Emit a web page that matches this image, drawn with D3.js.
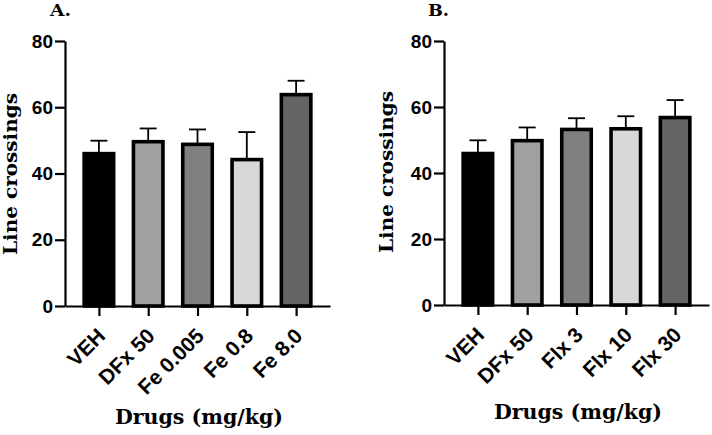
<!DOCTYPE html>
<html>
<head>
<meta charset="utf-8">
<script src="https://cdn.jsdelivr.net/npm/d3@7"></script>
<style>
  body { margin: 0; background: #fff; }
  .tick text { font-family: "Liberation Sans", Arial, sans-serif; font-weight: bold; fill: #000; }
  .slab { font-family: "DejaVu Serif", serif; font-weight: bold; fill: #000; }
</style>
</head>
<body>
<div id="chart"></div>
<script>
// values (mean and upper error)
var catsA = ["VEH", "DFx 50", "Fe 0.005", "Fe 0.8", "Fe 8.0"];
var meansA = [46, 49.6, 48.8, 44.2, 63.8];
var semA = [3.9, 4.0, 4.5, 8.3, 4.2];

var catsB = ["VEH", "DFx 50", "Flx 3", "Flx 10", "Flx 30"];
var meansB = [45.9, 49.8, 53.2, 53.4, 56.8];
var semB = [4.0, 4.0, 3.4, 3.8, 5.3];

var fills = ["#000000", "#a0a0a0", "#808080", "#d8d8d8", "#646464"];
var yTicks = [0, 20, 40, 60, 80];

var svg = d3.select("#chart").append("svg")
  .attr("width", 712)
  .attr("height", 435);

function panel(opt){
  var g = svg.append("g");

  var x = d3.scalePoint()
    .domain(opt.cats)
    .range([opt.left, opt.right])
    .padding(0.6875);

  var y = d3.scaleLinear()
    .domain([0, 80])
    .range([opt.bottom, opt.top]);

  var rows = opt.cats.map(function(c, i){
    return {cat: c, mean: opt.means[i], sem: opt.sem[i], fill: fills[i]};
  });

  var barW = 29.5;

  // bars
  g.selectAll("rect.bar")
    .data(rows)
    .enter().append("rect")
    .attr("class", "bar")
    .attr("x", function(d){ return x(d.cat) - barW / 2; })
    .attr("y", function(d){ return y(d.mean); })
    .attr("width", barW)
    .attr("height", function(d){ return y(0) - y(d.mean); })
    .attr("fill", function(d){ return d.fill; })
    .attr("stroke", "#000")
    .attr("stroke-width", 3.6);

  // error bars, upper only
  g.selectAll("line.err")
    .data(rows)
    .enter().append("line")
    .attr("class", "err")
    .attr("x1", function(d){ return x(d.cat); })
    .attr("x2", function(d){ return x(d.cat); })
    .attr("y1", function(d){ return y(d.mean) - 1.5; })
    .attr("y2", function(d){ return y(d.mean + d.sem); })
    .attr("stroke", "#000")
    .attr("stroke-width", 1.8);

  g.selectAll("line.cap")
    .data(rows)
    .enter().append("line")
    .attr("class", "cap")
    .attr("x1", function(d){ return x(d.cat) - 8.5; })
    .attr("x2", function(d){ return x(d.cat) + 8.5; })
    .attr("y1", function(d){ return y(d.mean + d.sem); })
    .attr("y2", function(d){ return y(d.mean + d.sem); })
    .attr("stroke", "#000")
    .attr("stroke-width", 1.8);

  // y axis
  var ya = g.append("g")
    .attr("transform", "translate(" + opt.left + ",0)")
    .call(d3.axisLeft(y).tickValues(yTicks).tickSize(10).tickSizeOuter(0).tickPadding(2));
  ya.selectAll(".tick text").style("font-size", "19px");

  // x axis
  var xa = g.append("g")
    .attr("transform", "translate(0," + opt.bottom + ")")
    .call(d3.axisBottom(x).tickSize(10).tickSizeOuter(0));

  [ya, xa].forEach(function(a){
    a.select(".domain").attr("stroke-width", 2.2);
    a.selectAll(".tick line").attr("stroke-width", 2.2);
  });

  xa.selectAll(".tick text")
    .style("font-size", "21px")
    .attr("x", 0)
    .attr("y", 0)
    .attr("dy", "0.35em")
    .attr("text-anchor", "end")
    .attr("transform", "translate(2,26) rotate(-45)");

  // labels
  g.append("text")
    .attr("class", "slab")
    .attr("transform", "translate(" + opt.ylabX + "," + opt.ylabY + ") rotate(-90)")
    .attr("text-anchor", "middle")
    .attr("font-size", 19)
    .attr("textLength", 162)
    .attr("lengthAdjust", "spacingAndGlyphs")
    .text("Line crossings");

  g.append("text")
    .attr("class", "slab")
    .attr("x", opt.titleX)
    .attr("y", opt.titleY)
    .attr("text-anchor", "middle")
    .attr("font-size", 20)
    .attr("textLength", 168)
    .attr("lengthAdjust", "spacingAndGlyphs")
    .text("Drugs (mg/kg)");

  g.append("text")
    .attr("class", "slab")
    .attr("x", opt.tagX)
    .attr("y", 16)
    .attr("font-size", 16)
    .attr("textLength", 21)
    .attr("lengthAdjust", "spacingAndGlyphs")
    .text(opt.tag);
}

panel({
  cats: catsA, means: meansA, sem: semA,
  left: 65, right: 330, top: 41, bottom: 306,
  ylabX: 17, ylabY: 174,
  titleX: 199, titleY: 424,
  tagX: 50, tag: "A."
});

panel({
  cats: catsB, means: meansB, sem: semB,
  left: 444, right: 709, top: 41, bottom: 305,
  ylabX: 393, ylabY: 172,
  titleX: 578, titleY: 419,
  tagX: 428, tag: "B."
});
</script>
</body>
</html>
